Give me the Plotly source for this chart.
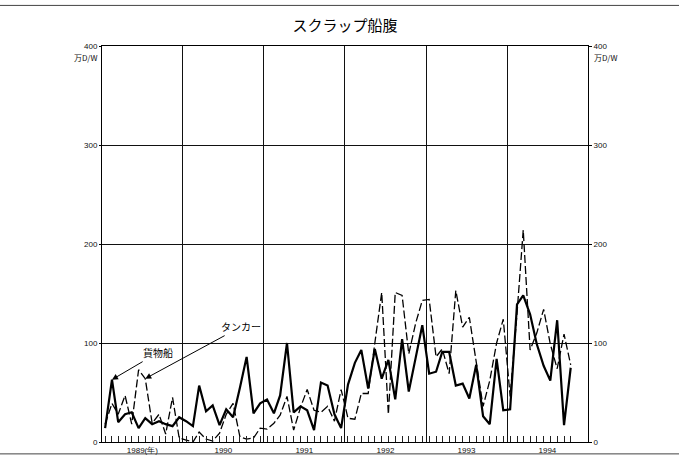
import plotly.graph_objects as go
import pandas as pd

# ---- data (unit: 万D/W, monthly Jan 1989 - Oct 1994) ----
months = pd.date_range("1989-01-01", periods=70, freq="MS") + pd.Timedelta(days=14)

cargo = [  # 貨物船 (solid)
    14, 63, 20, 28, 30, 14, 24, 18, 21, 18, 16, 25,
    21, 16, 57, 31, 37, 17, 33, 25, 55, 86, 29, 39,
    43, 29, 47, 100, 30, 36, 32, 12, 60, 57, 28, 14,
    58, 80, 93, 54, 94, 64, 83, 43, 104, 51, 85, 118,
    69, 71, 91, 91, 57, 59, 44, 78, 26, 18, 84, 32,
    33, 139, 148, 129, 99, 77, 62, 123, 17, 75,
]

tanker = [  # タンカー (dashed)
    18, 39, 28, 47, 18, 73, 64, 19, 28, 8, 45, 4,
    2, 0, 10, 3, 1, 9, 28, 39, 5, 3, 4, 14,
    13, 19, 27, 46, 12, 35, 53, 32, 30, 36, 21, 53,
    24, 23, 49, 49, 100, 151, 28, 151, 148, 89, 120, 143,
    144, 86, 94, 69, 153, 116, 126, 79, 36, 62, 100, 124,
    46, 130, 214, 93, 110, 134, 99, 74, 109, 78,
]

year_starts = pd.to_datetime(["1990-01-01", "1991-01-01", "1992-01-01",
                              "1993-01-01", "1994-01-01"])
year_mids = pd.to_datetime(["1989-07-02", "1990-07-02", "1991-07-02",
                            "1992-07-02", "1993-07-02", "1994-07-02"])
year_labels = ["1989(年)", "1990", "1991", "1992", "1993", "1994"]
y_ticks = [0, 100, 200, 300, 400]
y_labels = ["0", "100", "200", "300", "400"]

title_text = "スクラップ船腹"
unit_text = "万D/W"
cargo_name = "貨物船"
tanker_name = "タンカー"

x_range = ["1989-01-01", "1995-01-01"]

tick_font = dict(family="Liberation Sans Narrow, Liberation Sans, Arial", size=8, color="#111")
jp_font = "Noto Sans CJK JP"

fig = go.Figure()
fig.add_trace(go.Scatter(x=months, y=cargo, mode="lines", name=cargo_name,
                         line=dict(color="#000", width=2.2), hoverinfo="skip"))
fig.add_trace(go.Scatter(x=months, y=tanker, mode="lines", name=tanker_name,
                         line=dict(color="#000", width=1.3, dash="8px,3px"), hoverinfo="skip"))
# invisible trace carrying the secondary axes (year labels / right scale)
fig.add_trace(go.Scatter(x=months, y=cargo, mode="lines", xaxis="x2", yaxis="y2",
                         line=dict(width=0, color="rgba(0,0,0,0)"), hoverinfo="skip",
                         showlegend=False))

fig.update_layout(
    width=679, height=467,
    margin=dict(l=102, r=91, t=46, b=21),
    paper_bgcolor="white", plot_bgcolor="white",
    showlegend=False,
    title=dict(text=title_text, x=0.5, xref="paper", xanchor="center",
               y=1 - 26 / 467, yref="container", yanchor="middle",
               font=dict(family=jp_font, size=15, color="#000")),
    xaxis=dict(type="date", range=x_range, tickvals=year_starts, showticklabels=False,
               showgrid=True, gridcolor="#111", gridwidth=1,
               ticks="", showline=True, linecolor="#000", linewidth=1, mirror=True,
               zeroline=False,
               minor=dict(tickvals=months, ticks="inside", ticklen=6,
                          tickcolor="#222", tickwidth=1, showgrid=False)),
    xaxis2=dict(type="date", range=x_range, overlaying="x", anchor="y", side="bottom",
                tickvals=year_mids, ticktext=year_labels, ticks="", showgrid=False,
                showline=False, zeroline=False, tickfont=tick_font, ticklabelstandoff=2),
    yaxis=dict(range=[0, 400], tickvals=y_ticks, ticktext=y_labels,
               showgrid=True, gridcolor="#111", gridwidth=1, zeroline=False,
               showline=True, linecolor="#000", linewidth=1, mirror=True,
               ticks="outside", ticklen=2, tickcolor="#000", tickfont=tick_font),
    yaxis2=dict(range=[0, 400], overlaying="y", side="right", anchor="x",
                tickvals=y_ticks, ticktext=y_labels, showgrid=False, zeroline=False,
                showline=False, ticks="outside", ticklen=3, tickcolor="#000",
                tickfont=tick_font),
)

# unit labels
fig.add_annotation(text=unit_text, xref="paper", yref="paper", x=-0.004, y=0.97,
                   xanchor="right", yanchor="middle", showarrow=False,
                   font=dict(family=jp_font, size=8, color="#111"))
fig.add_annotation(text=unit_text, xref="paper", yref="paper", x=1.008, y=0.97,
                   xanchor="left", yanchor="middle", showarrow=False,
                   font=dict(family=jp_font, size=8, color="#111"))

# series labels with arrows
fig.add_annotation(x=months[1], y=cargo[1], text=cargo_name, ax=46, ay=-27,
                   showarrow=True, arrowhead=2, arrowsize=1.2, arrowwidth=1,
                   arrowcolor="#000", font=dict(family=jp_font, size=10, color="#000"))
fig.add_annotation(x=months[6], y=tanker[6], text=tanker_name, ax=96, ay=-52,
                   showarrow=True, arrowhead=2, arrowsize=1.2, arrowwidth=1,
                   arrowcolor="#000", font=dict(family=jp_font, size=10, color="#000"))

# scanned page frame lines (top and bottom)
fig.add_shape(type="line", xref="paper", yref="paper", x0=-0.21, x1=1.19,
              y0=1.1025, y1=1.1025, line=dict(color="#444", width=1))
fig.add_shape(type="line", xref="paper", yref="paper", x0=-0.21, x1=1.19,
              y0=-0.03, y1=-0.03, line=dict(color="#444", width=1))

fig.write_html("out.html", config={"displayModeBar": False},
               post_script="document.body.style.margin='0';")
